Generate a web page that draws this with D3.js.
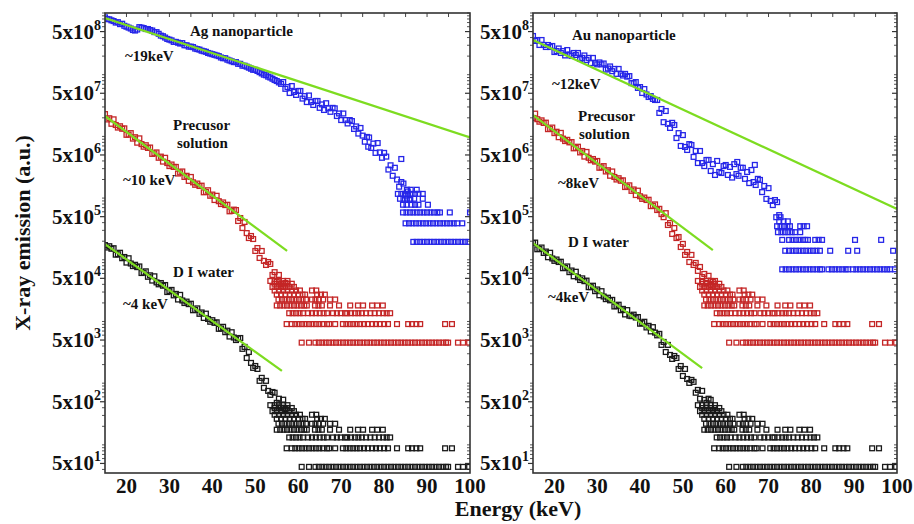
<!DOCTYPE html>
<html>
<head>
<meta charset="utf-8">
<title>X-ray emission spectra</title>
<script src="https://cdn.jsdelivr.net/npm/d3@7"></script>
<style>
  body { margin: 0; background: #fff; }
  #chart text { font-family: "Liberation Serif", "Times New Roman", serif; font-weight: bold; fill: #111; }
</style>
</head>
<body>
<svg id="chart" width="914" height="524"></svg>
<script>
// energy channels of the dense part of every spectrum (keV)
var energyGrid = [15,15.5,16,16.5,17,17.5,18,18.5,19,19.5,20,20.5,21,21.5,22,22.5,23,23.5,24,24.5,25,25.5,26,26.5,27,27.5,28,28.5,29,29.5,30,30.5,31,31.5,32,32.5,33,33.5,34,34.5,35,35.5,36,36.5,37,37.5,38,38.5,39,39.5,40,40.5,41,41.5,42,42.5,43,43.5,44,44.5,45,45.5,46,46.5,47,47.5,48,48.5,49,49.5,50,50.5,51,51.5,52,52.5,53,53.5,54,54.5,55,55.5,56,56.5,57,57.5,58,58.5,59,59.5,60,60.5,61,61.5,62,62.5,63,63.5,64,64.5,65,65.5,66,66.5,67,67.5,68,68.5,69,69.5,70,70.5,71,71.5,72,72.5,73,73.5,74,74.5,75,75.5,76,76.5,77,77.5,78,78.5,79,79.5,80,80.5,81,81.5,82,82.5,83,83.5,84,84.5,85,85.5,86];

// left panel, Ag nanoparticle (15 .. 86 keV)
var agValues = [8.5e8,8.0e8,7.9e8,7.6e8,7.4e8,7.0e8,7.1e8,6.6e8,6.7e8,6.2e8,6.0e8,5.8e8,5.6e8,5.3e8,5.2e8,5.4e8,5.9e8,5.8e8,5.7e8,5.5e8,5.5e8,5.3e8,5.2e8,4.9e8,4.9e8,4.6e8,4.3e8,4.2e8,4.0e8,3.8e8,3.7e8,3.6e8,3.4e8,3.4e8,3.3e8,3.2e8,3.25e8,3.0e8,3.0e8,2.85e8,2.85e8,2.8e8,2.65e8,2.6e8,2.55e8,2.45e8,2.4e8,2.35e8,2.25e8,2.2e8,2.15e8,2.1e8,2.05e8,2.0e8,1.9e8,1.85e8,1.85e8,1.75e8,1.7e8,1.65e8,1.6e8,1.6e8,1.5e8,1.5e8,1.4e8,1.4e8,1.35e8,1.3e8,1.25e8,1.2e8,1.2e8,1.15e8,1.1e8,1.05e8,1.0e8,9.8e7,9.3e7,9.0e7,8.6e7,8.2e7,7.9e7,7.5e7,7.1e7,
  7.6e7,5.9e7,6.3e7,5.05e7,6.55e7,5.25e7,4.7e7,5.45e7,5.45e7,4.1e7,4.5e7,3.6e7,4.6e7,3.6e7,3.23e7,3.75e7,3.75e7,2.9e7,3.3e7,2.68e7,3.45e7,2.85e7,2.5e7,2.9e7,2.85e7,2.14e7,2.35e7,1.84e7,2.35e7,1.84e7,1.62e7,1.84e7,1.77e7,1.32e7,1.45e7,1.11e7,1.37e7,1.03e7,8.2e6,9.8e6,9.6e6,6.5e6,7.65e6,5.4e6,7.8e6,5.5e6,4.5e6,5.4e6,4.7e6,2.9e6,3.4e6,2.3e6,3.1e6,2.0e6,1.53e6,1.82e6,1.72e6,1.1e6,1.28e6,9.3e5];
var agExtra = [[76.3, 6.8e6], [84, 4.3e6]];
var agUnit = 1.95e5;
var agTail = [
  [86.8,87.6,88.4,89.2,90.0,90.8,91.6,92.4,93.2,94.0,94.8,95.6,96.4,97.2,98.0,98.8,99.6],
  [85.0,85.8,86.6,87.4,88.2,89.0,89.8,90.6,91.4,92.2,93.0,93.8,94.6,95.4,96.2,97.0,98.2],
  [84.4,85.2,86.0,86.8,87.6,88.4,89.2,90.0,90.8,91.6,92.4,93.0,95.3,100.0],
  [84.4,85.2,86.4,87.2,88.0,90.2],
  [83.7,84.5,85.3,86.1,87.0,89.0],
  [83.2,84.0,84.8,85.6,86.4,87.2,88.0,89.0],
  [85.3,86.2,87.6]
];

// left panel, precursor solution and DI water (15 .. 57 keV)
var precLValues = [2.30e7,1.88e7,1.97e7,1.60e7,1.89e7,1.53e7,1.39e7,1.46e7,1.33e7,1.35e7,1.06e7,1.07e7,1.13e7,9.2e6,9.7e6,7.9e6,9.3e6,7.5e6,6.8e6,7.2e6,6.5e6,6.6e6,5.2e6,5.3e6,5.5e6,4.5e6,4.7e6,3.9e6,4.5e6,3.7e6,3.3e6,3.5e6,3.2e6,3.2e6,2.5e6,2.6e6,2.7e6,2.2e6,2.3e6,1.9e6,2.2e6,1.8e6,1.64e6,1.72e6,1.57e6,1.59e6,1.24e6,1.26e6,1.34e6,1.09e6,1.14e6,9.3e5,1.09e6,8.9e5,8.0e5,8.5e5,7.7e5,7.8e5,6.1e5,6.2e5,6.5e5,
  6.4e5,4.25e5,4.75e5,3.27e5,4.1e5,2.71e5,2.25e5,2.43e5,2.17e5,1.39e5,1.55e5,1.07e5,1.39e5,9.6e4,8.24e4,9.2e4,8.55e4,5.68e4,6.3e4,4.4e4,5.68e4,4.06e4,3.6e4,4.2e4];
var waterLValues = [1.73e5,1.58e5,1.66e5,1.51e5,1.54e5,1.21e5,1.23e5,1.30e5,1.06e5,1.11e5,9.0e4,1.06e5,8.7e4,7.9e4,8.3e4,7.6e4,7.8e4,6.1e4,6.2e4,6.5e4,5.3e4,5.6e4,4.6e4,5.4e4,4.3e4,4.0e4,4.2e4,3.8e4,3.9e4,3.0e4,3.1e4,3.25e4,2.65e4,2.8e4,2.27e4,2.7e4,2.19e4,1.99e4,2.1e4,1.91e4,1.94e4,1.52e4,1.54e4,1.63e4,1.33e4,1.40e4,1.14e4,1.34e4,1.10e4,9.9e3,1.05e4,9.5e3,9.7e3,7.6e3,7.7e3,8.2e3,6.7e3,7.1e3,5.7e3,6.7e3,5.5e3,5.0e3,5.3e3,
  5.4e3,3.6e3,3.87e3,2.56e3,3.2e3,2.13e3,1.77e3,1.9e3,1.70e3,1.09e3,1.22e3,8.4e2,1.09e3,7.5e2,6.46e2,7.2e2,7.0e2,4.8e2,5.6e2,4.0e2,5.4e2,3.8e2];

// right panel, Au nanoparticle (15 .. 72.5 keV)
var auValues = [4.24e8,3.52e8,3.65e8,3.03e8,3.65e8,3.03e8,2.81e8,3.03e8,2.81e8,2.92e8,2.33e8,2.42e8,2.66e8,2.25e8,2.42e8,2.05e8,2.51e8,2.13e8,2.01e8,2.25e8,2.09e8,2.25e8,1.80e8,1.87e8,2.05e8,1.73e8,1.87e8,1.54e8,1.87e8,1.54e8,1.47e8,1.58e8,1.47e8,1.52e8,1.21e8,1.26e8,1.36e8,1.14e8,1.24e8,1.03e8,1.24e8,1.03e8,9.7e7,1.03e8,9.3e7,9.5e7,7.3e7,7.3e7,7.6e7,6.1e7,6.3e7,5.05e7,5.85e7,4.78e7,4.35e7,4.5e7,4.05e7,3.89e7,
  3.89e7,2.4e7,2.78e7,1.7e7,2.58e7,1.6e7,1.37e7,1.66e7,1.53e7,9.4e6,1.13e7,7.0e6,1.05e7,6.75e6,6.02e6,7.5e6,7.25e6,4.65e6,5.8e6,3.7e6,5.8e6,3.7e6,3.3e6,4.15e6,4.15e6,2.75e6,3.55e6,2.37e6,4.0e6,2.65e6,2.55e6,3.3e6,3.44e6,2.37e6,3.2e6,2.15e6,3.55e6,2.45e6,2.3e6,3.1e6,3.1e6,2.05e6,2.65e6,1.75e6,2.85e6,1.82e6,1.63e6,2.05e6,1.97e6,1.25e6,1.57e6,9.7e5,1.45e6,9.0e5,7.7e5,9.3e5,8.6e5,5.3e5];
var auExtra = [[62.7, 3.85e6], [66.8, 3.45e6]];
var auUnit = 7.0e4;
var auTail = [
  [73.2,74.0,74.8,75.6,76.4,77.2,78.0,78.8,79.6,80.4,81.2,82.0,82.5,84.0,84.8,85.6,86.4,87.2,88.0,88.6,89.7,90.5,91.3,92.1,92.9,93.7,94.5,95.3,96.1,96.9,97.7,98.4,99.5],
  [73.9,74.8,75.6,76.4,77.2,78.0,78.8,79.6,80.4,81.2,82.0,84.4,88.6,90.7,99.1],
  [73.2,74.8,75.6,76.4,77.2,78.0,78.6,79.2,80.9,81.7,82.5,90.2,96.3],
  [72.2,73.0,73.8,74.6,75.4,76.2,77.4],
  [72.0,72.8,73.6,74.4,75.0,77.4,78.2,79.0],
  [72.5,73.5,74.5],
  [71.8,72.8]
];

// right panel, precursor solution and DI water (15 .. 57 keV)
var precRValues = [1.99e7,2.34e7,1.90e7,1.73e7,1.82e7,1.65e7,1.67e7,1.31e7,1.32e7,1.39e7,1.13e7,1.19e7,9.7e6,1.14e7,9.2e6,8.4e6,8.8e6,8.0e6,8.1e6,6.4e6,6.5e6,6.8e6,5.5e6,5.8e6,4.7e6,5.6e6,4.5e6,4.1e6,4.3e6,3.9e6,4.0e6,3.1e6,3.15e6,3.3e6,2.7e6,2.83e6,2.3e6,2.7e6,2.2e6,2.0e6,2.1e6,1.91e6,1.94e6,1.51e6,1.53e6,1.61e6,1.31e6,1.38e6,1.12e6,1.32e6,1.07e6,9.7e5,1.02e6,9.3e5,9.4e5,7.4e5,7.5e5,7.9e5,6.4e5,6.7e5,5.5e5,
  4.9e5,5.7e5,3.66e5,3.94e5,2.62e5,3.27e5,2.25e5,2.34e5,1.61e5,1.81e5,1.2e5,1.34e5,9.2e4,1.2e5,8.24e4,8.9e4,6.6e4,7.65e4,5.26e4,5.9e4,4.2e4,5.5e4,3.91e4,4.4e4];
var waterRValues = [1.87e5,1.90e5,1.48e5,1.50e5,1.58e5,1.29e5,1.36e5,1.10e5,1.30e5,1.05e5,9.6e4,1.01e5,9.2e4,9.3e4,7.3e4,7.4e4,7.8e4,6.3e4,6.7e4,5.4e4,6.4e4,5.2e4,4.7e4,5.0e4,4.5e4,4.6e4,3.6e4,3.6e4,3.8e4,3.1e4,3.3e4,2.66e4,3.1e4,2.54e4,2.3e4,2.43e4,2.2e4,2.24e4,1.75e4,1.78e4,1.87e4,1.52e4,1.60e4,1.30e4,1.53e4,1.24e4,1.22e4,1.29e4,1.16e4,1.18e4,9.2e3,9.4e3,9.9e3,8.0e3,8.5e3,6.9e3,8.1e3,6.6e3,5.96e3,
  6.3e3,4.17e3,4.66e3,3.2e3,4.17e3,2.87e3,2.47e3,2.76e3,2.56e3,1.70e3,1.9e3,1.31e3,1.70e3,1.17e3,1.01e3,1.13e3,1.05e3,7.0e2,7.78e2,5.6e2,7.5e2,5.36e2,4.8e2,5.6e2,5.36e2,3.69e2];

// single-count tails of precursor and water spectra (count levels 1..10)
var precUnit = 4540;
var waterUnit = 44;
var countTail = [
  [60.8,62.5,64.0,64.8,65.6,66.4,67.2,68.0,68.8,69.6,70.4,71.2,72.0,72.8,73.6,74.4,75.2,76.0,76.8,77.6,78.4,79.2,80.0,80.8,81.6,82.4,83.2,84.0,84.8,85.6,86.4,87.2,88.0,88.8,89.6,90.4,91.2,92.0,92.8,93.6,94.4,94.9,97.2,98.4,99.8],
  [57.3,58.5,59.3,60.1,60.9,61.7,62.5,63.3,64.1,64.9,65.7,66.7,67.2,68.6,70.4,71.2,72.0,72.8,73.6,74.4,75.3,76.2,77.2,78.1,79.0,80.0,80.9,83.0,85.6,86.5,87.5,88.4,94.2,95.8],
  [57.9,58.7,59.5,60.3,61.1,62.3,63.2,64.1,65.0,65.9,66.7,68.1,69.0,69.9,70.9,71.4,72.3,73.2,74.0,74.8,75.8,76.8,77.8,78.8,79.8,80.6,81.4],
  [55.0,55.8,56.6,57.4,58.2,59.0,59.8,60.6,61.4,62.0,63.9,64.7,65.5,67.4,69.5,72.1,73.9,75.1,77.2,78.4,79.7],
  [55.4,56.2,57.0,57.8,58.6,59.4,60.2,61.0,61.8,63.2,64.0,64.8,65.8,67.4,68.6],
  [55.0,56.0,57.0,58.0,59.0,60.0,61.0,61.6,64.4,65.3,66.2],
  [54.5,55.5,56.5,57.5,58.5,59.5,60.4,63.2,64.2],
  [54.0,55.0,56.0,57.0,58.0,59.0],
  [54.5,55.5,56.5,57.5,58.5],
  [53.5,54.5,55.5,56.5,57.5]
];

// exponential fits (end points, keV / a.u.)
var agFit = [[15, 8.3e8], [100, 9.6e6]];
var precLFit = [[15, 2.14e7], [57.4, 1.39e5]];
var waterLFit = [[15, 1.8e5], [56.2, 1.58e3]];
var auFit = [[15, 3.65e8], [100, 6.66e5]];
var precRFit = [[15, 2.22e7], [57.0, 1.44e5]];
var waterRFit = [[15, 1.87e5], [54.5, 1.76e3]];

var xTicks = [20, 30, 40, 50, 60, 70, 80, 90, 100];
var yTicks = [5e1, 5e2, 5e3, 5e4, 5e5, 5e6, 5e7, 5e8];

var BLUE = '#2626e8', RED = '#c42626', BLACK = '#1a1a1a', GREEN = '#7ddc20';

var svg = d3.select('#chart');
var TOP = 13, BOTTOM = 473;
var y = d3.scaleLog().domain([35, 1e9]).range([BOTTOM, TOP]);

var dense = function (values) {
  return values.map(function (v, i) { return [energyGrid[i], v]; });
};
var tail = function (levels, unit) {
  var pts = [];
  levels.forEach(function (es, i) {
    es.forEach(function (e) { pts.push([e, (i + 1) * unit]); });
  });
  return pts;
};

var drawPanel = function (id, x0, x1, series, fits, notes) {
  var x = d3.scaleLinear().domain([15, 100]).range([x0, x1]);
  var g = svg.append('g');

  svg.append('clipPath').attr('id', 'clip-' + id)
    .append('rect').attr('x', x0).attr('y', TOP).attr('width', x1 - x0).attr('height', BOTTOM - TOP);

  // ticks: left outward, right inward, top inward
  var minor = y.ticks().filter(function (t) { return yTicks.indexOf(t) < 0; });
  g.selectAll('.ymaj').data(yTicks).enter().append('line')
    .attr('x1', x0 - 5).attr('x2', x0).attr('y1', y).attr('y2', y)
    .attr('stroke', '#333').attr('stroke-width', 1.2);
  g.selectAll('.ymin').data(minor).enter().append('line')
    .attr('x1', x0 - 3).attr('x2', x0).attr('y1', y).attr('y2', y)
    .attr('stroke', '#555').attr('stroke-width', 1);
  g.selectAll('.ymajr').data(yTicks).enter().append('line')
    .attr('x1', x1 - 5).attr('x2', x1).attr('y1', y).attr('y2', y)
    .attr('stroke', '#333').attr('stroke-width', 1.2);
  g.selectAll('.yminr').data(minor).enter().append('line')
    .attr('x1', x1 - 3).attr('x2', x1).attr('y1', y).attr('y2', y)
    .attr('stroke', '#555').attr('stroke-width', 1);
  g.selectAll('.xtop').data(d3.range(20, 100, 5)).enter().append('line')
    .attr('x1', x).attr('x2', x).attr('y1', TOP).attr('y2', TOP + 4)
    .attr('stroke', '#444').attr('stroke-width', 1);

  // y tick labels 5x10^n
  var yl = g.selectAll('.ylab').data(yTicks).enter().append('text')
    .attr('x', x0 - 4).attr('y', function (d) { return y(d) + 7; })
    .attr('text-anchor', 'end').style('font-size', '21px');
  yl.append('tspan').text('5x10');
  yl.append('tspan').attr('dy', -9).style('font-size', '14px')
    .text(function (d) { return Math.round(Math.log10(d / 5)); });

  g.selectAll('.xlab').data(xTicks).enter().append('text')
    .attr('x', x).attr('y', 493).attr('text-anchor', 'middle')
    .style('font-size', '21px').text(function (d) { return d; });

  // data
  var plot = g.append('g').attr('clip-path', 'url(#clip-' + id + ')');
  series.forEach(function (s) {
    plot.append('g').selectAll('rect').data(s.points).enter().append('rect')
      .attr('x', function (d) { return x(d[0]) - 2.4; })
      .attr('y', function (d) { return y(d[1]) - 2.4; })
      .attr('width', 4.8).attr('height', 4.8)
      .attr('fill', 'none').attr('stroke', s.color).attr('stroke-width', 1.3);
  });
  var line = d3.line().x(function (d) { return x(d[0]); }).y(function (d) { return y(d[1]); });
  fits.forEach(function (f) {
    plot.append('path').attr('d', line(f)).attr('fill', 'none')
      .attr('stroke', GREEN).attr('stroke-width', 2.2);
  });

  g.append('rect').attr('x', x0).attr('y', TOP).attr('width', x1 - x0).attr('height', BOTTOM - TOP)
    .attr('fill', 'none').attr('stroke', '#333').attr('stroke-width', 1.6);

  notes.forEach(function (n) {
    g.append('text').attr('x', n[1]).attr('y', n[2]).style('font-size', '15px').text(n[0]);
  });
};

drawPanel('ag', 105, 470, [
  { color: BLUE, points: dense(agValues).concat(agExtra, tail(agTail, agUnit)) },
  { color: RED, points: dense(precLValues).concat(tail(countTail, precUnit)) },
  { color: BLACK, points: dense(waterLValues).concat(tail(countTail, waterUnit)) }
], [agFit, precLFit, waterLFit], [
  ['Ag nanoparticle', 190, 36], ['~19keV', 125, 61], ['Precusor', 173, 130], ['solution', 177, 148],
  ['~10 keV', 123, 185], ['D I water', 173, 277], ['~4 keV', 123, 309]
]);

drawPanel('au', 533, 897, [
  { color: BLUE, points: dense(auValues).concat(auExtra, tail(auTail, auUnit)) },
  { color: RED, points: dense(precRValues).concat(tail(countTail, precUnit)) },
  { color: BLACK, points: dense(waterRValues).concat(tail(countTail, waterUnit)) }
], [auFit, precRFit, waterRFit], [
  ['Au nanoparticle', 572, 40], ['~12keV', 552, 89], ['Precusor', 578, 121], ['solution', 579, 139],
  ['~8keV', 558, 188], ['D I water', 568, 247], ['~4keV', 548, 302]
]);

svg.append('text').attr('transform', 'translate(30,233) rotate(-90)')
  .attr('text-anchor', 'middle').style('font-size', '22px').text('X-ray emission (a.u.)');
svg.append('text').attr('x', 518).attr('y', 516)
  .attr('text-anchor', 'middle').style('font-size', '22px').text('Energy (keV)');
</script>
</body>
</html>
